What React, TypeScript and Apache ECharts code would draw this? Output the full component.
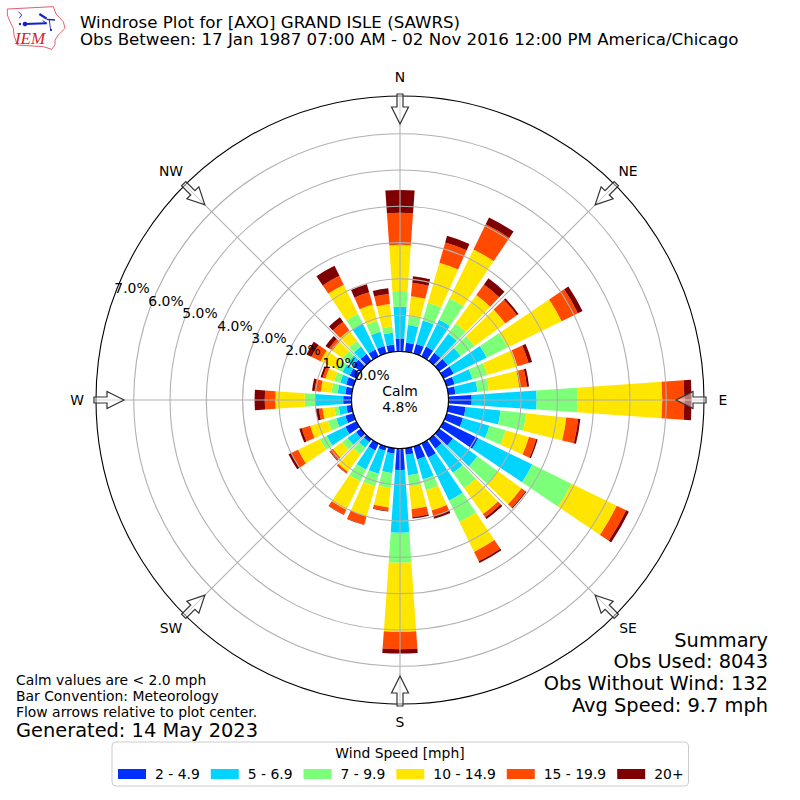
import { useEffect, useRef } from "react";
import * as echarts from "echarts";

// percent of observations per direction, clockwise from N in 10 degree steps
const directions = ["N", "10", "20", "30", "40", "50", "60", "70", "80", "E", "100", "110", "120", "130", "140", "150", "160", "170", "S", "190", "200", "210", "220", "230", "240", "250", "260", "W", "280", "290", "300", "310", "320", "330", "340", "350"];
const speed2to5 = [0.36, 0.25, 0.27, 0.30, 0.27, 0.29, 0.31, 0.23, 0.20, 0.64, 0.48, 0.47, 1.06, 0.47, 0.32, 0.43, 0.37, 0.18, 0.59, 0.15, 0.12, 0.21, 0.10, 0.16, 0.34, 0.23, 0.15, 0.23, 0.18, 0.21, 0.21, 0.26, 0.23, 0.21, 0.21, 0.20];
const speed5to7 = [0.87, 0.49, 0.67, 0.82, 0.65, 0.44, 1.01, 0.51, 0.61, 1.79, 0.97, 0.76, 1.66, 0.83, 0.83, 1.32, 0.57, 0.57, 1.73, 0.54, 0.66, 0.59, 0.19, 0.29, 0.57, 0.26, 0.21, 0.78, 0.21, 0.17, 0.22, 0.17, 0.26, 0.80, 0.41, 0.33];
const speed7to10 = [0.44, 0.25, 0.51, 0.66, 0.35, 0.47, 0.64, 0.42, 0.31, 1.12, 0.71, 0.46, 1.20, 0.70, 0.52, 0.65, 0.31, 0.31, 0.83, 0.41, 0.36, 0.36, 0.23, 0.18, 0.21, 0.24, 0.12, 0.28, 0.17, 0.17, 0.17, 0.19, 0.19, 0.30, 0.31, 0.17];
const speed10to15 = [1.27, 0.55, 1.15, 1.50, 0.97, 1.05, 1.66, 0.87, 0.85, 2.34, 1.11, 0.67, 1.39, 0.80, 0.88, 0.92, 0.58, 0.63, 1.90, 0.54, 0.86, 0.87, 0.59, 0.32, 0.67, 0.51, 0.33, 0.81, 0.30, 0.25, 0.50, 0.35, 0.36, 0.89, 0.47, 0.62];
const speed15to20 = [0.88, 0.37, 0.58, 0.77, 0.36, 0.39, 0.50, 0.32, 0.21, 0.61, 0.33, 0.21, 0.29, 0.14, 0.11, 0.29, 0.16, 0.22, 0.48, 0.10, 0.24, 0.15, 0.05, 0.10, 0.21, 0.24, 0.10, 0.29, 0.17, 0.08, 0.28, 0.11, 0.29, 0.27, 0.35, 0.28];
const speed20up = [0.63, 0.18, 0.19, 0.21, 0.21, 0.06, 0.14, 0.10, 0.06, 0.20, 0.06, 0.04, 0.08, 0.03, 0.06, 0.05, 0.08, 0.04, 0.12, 0.01, 0.01, 0.01, 0.01, 0.02, 0.08, 0.07, 0.09, 0.28, 0.07, 0.06, 0.15, 0.12, 0.15, 0.31, 0.23, 0.16];

const speedNames = ["2 - 4.9", "5 - 6.9", "7 - 9.9", "10 - 14.9", "15 - 19.9", "20+"];
const speedColors = ["#0030ff", "#00d4ff", "#7cff79", "#ffe600", "#ff4a00", "#7f0000"];
const speedValues = [speed2to5, speed5to7, speed7to10, speed10to15, speed15to20, speed20up];

// clockwise from E, which is how the arrows are turned
const compass = ["E", "NE", "N", "NW", "W", "SW", "S", "SE"];
const compassSpots = [[723, 400], [628, 171], [400, 77], [171, 171], [77, 400], [171, 628], [400, 722], [628, 628]];
const radiusTicks = [1, 2, 3, 4, 5, 6];
const radiusLabels = ["0.0%", "1.0%", "2.0%", "3.0%", "4.0%", "5.0%", "6.0%", "7.0%"];
const radiusLabelSpots = [[372, 375], [340, 363], [303, 350], [269, 338], [235, 326], [200, 313], [166, 301], [132, 288]];

const titleLines = ["Windrose Plot for [AXO] GRAND ISLE (SAWRS)", "Obs Between: 17 Jan 1987 07:00 AM - 02 Nov 2016 12:00 PM America/Chicago"];
const noteLines = ["Calm values are < 2.0 mph", "Bar Convention: Meteorology", "Flow arrows relative to plot center."];
const summaryLines = ["Summary", "Obs Used: 8043", "Obs Without Wind: 132", "Avg Speed: 9.7 mph"];

const FONT = "'DejaVu Sans', sans-serif";
const CX = 400;
const CY = 400;
const HOLE = 48.5;
const OUTER = 304;
const RADIUS_MAX = 7.04;

function text(x: number, y: number, value: string, fontSize: number, align = "left", extra = {}) {
  return {
    type: "text",
    silent: true,
    z: 20,
    x,
    y,
    style: { text: value, fill: "#000", font: `${fontSize}px ${FONT}`, align, verticalAlign: "middle", ...extra },
  };
}

function arrowGraphic(index: number) {
  return {
    type: "polygon",
    silent: true,
    z: 15,
    x: CX,
    y: CY,
    rotation: (Math.PI / 4) * index,
    shape: { points: [[276, 0], [293, 8.5], [293, 3], [306, 3], [306, -3], [293, -3], [293, -8.5]] },
    style: { fill: "rgba(255,255,255,0.45)", stroke: "#333", lineWidth: 1.2 },
  };
}

function logoGraphics() {
  const line = (points: number[][], stroke: string, lineWidth: number) => ({
    type: "polyline",
    silent: true,
    z: 20,
    shape: { points: points.map(([x, y]) => [x / 3, y / 3]) },
    style: { stroke, lineWidth, fill: "none" },
  });
  return [
    line([[22, 27], [160, 20], [168, 42], [190, 65], [195, 85], [175, 105], [165, 120], [165, 135], [155, 148], [130, 140], [52, 135], [42, 105], [40, 85], [30, 65], [22, 45], [22, 27]], "#e06070", 1),
    line([[75, 72], [140, 70]], "#1420c8", 2),
    line([[140, 58], [165, 60]], "#1420c8", 1.4),
    line([[118, 42], [140, 56]], "#1420c8", 2.2),
    line([[55, 35], [65, 45], [58, 55]], "#1420c8", 0.9),
    line([[148, 60], [152, 92]], "#1420c8", 0.9),
    line([[140, 70], [128, 62]], "#1420c8", 1),
    { type: "circle", silent: true, z: 20, shape: { cx: 25, cy: 24, r: 2.3 }, style: { fill: "#1420c8" } },
    { type: "circle", silent: true, z: 20, shape: { cx: 20, cy: 24, r: 1.2 }, style: { fill: "#1420c8" } },
    { type: "circle", silent: true, z: 20, shape: { cx: 51, cy: 30, r: 1.1 }, style: { fill: "#1420c8" } },
    text(30, 38.5, "IEM", 17, "center", { fill: "#d8212b", font: "italic 17px 'Liberation Serif', serif" }),
  ];
}

function buildOption() {
  const series = speedNames.map((name, i) => ({
    name,
    type: "bar",
    coordinateSystem: "polar",
    polarIndex: 0,
    stack: "wind",
    barWidth: "80%",
    itemStyle: { color: speedColors[i] },
    data: speedValues[i],
    silent: true,
    z: 2,
  }));

  return {
    animation: false,
    backgroundColor: "#fff",
    textStyle: { fontFamily: FONT },
    polar: [
      { center: [CX, CY], radius: [HOLE, OUTER] },
      { center: [CX, CY], radius: [HOLE, OUTER] },
    ],
    // bars sit on a band axis, turned half a band so N is centred on the top
    angleAxis: [
      { polarIndex: 0, type: "category", data: directions, startAngle: 95, clockwise: true, show: false },
      {
        polarIndex: 1,
        type: "value",
        min: 0,
        max: 360,
        interval: 45,
        startAngle: 90,
        clockwise: true,
        z: 5,
        axisLine: { show: true, lineStyle: { color: "#000", width: 1.1 } },
        axisTick: { show: false },
        axisLabel: { show: false },
        splitLine: { show: true, lineStyle: { color: "#b0b0b0", width: 1.1 } },
      },
    ],
    radiusAxis: [
      { polarIndex: 0, type: "value", min: 0, max: RADIUS_MAX, show: false },
      {
        polarIndex: 1,
        type: "value",
        min: 0,
        max: RADIUS_MAX,
        z: 5,
        axisLine: { show: false },
        axisTick: { show: false, customValues: radiusTicks },
        axisLabel: { show: false },
        splitLine: { show: true, lineStyle: { color: "#b0b0b0", width: 1.1 } },
      },
    ],
    legend: {
      left: 112,
      top: 742,
      orient: "horizontal",
      icon: "rect",
      itemWidth: 28,
      itemHeight: 10,
      itemGap: 11,
      padding: [25, 5, 5, 6],
      borderColor: "#ccc",
      borderWidth: 1,
      borderRadius: 4,
      backgroundColor: "#fff",
      selectedMode: false,
      data: speedNames,
      textStyle: { color: "#000", fontSize: 13.9, fontFamily: FONT, padding: [0, 0, 0, 4] },
    },
    graphic: [
      { type: "circle", silent: true, z: 10, shape: { cx: CX, cy: CY, r: HOLE }, style: { fill: "#fff", stroke: "#000", lineWidth: 1.1 } },
      ...compass.map((_, i) => arrowGraphic(i)),
      ...compass.map((label, i) => text(compassSpots[i][0], compassSpots[i][1], label, 13.9, "center")),
      ...radiusLabels.map((label, i) => text(radiusLabelSpots[i][0], radiusLabelSpots[i][1], label, 13.9, "center")),
      text(CX, 391, "Calm", 13.9, "center"),
      text(CX, 407, "4.8%", 13.9, "center"),
      text(80, 30.5, titleLines.join("\n"), 16.67, "left", { lineHeight: 17 }),
      ...noteLines.map((line, i) => text(16, 680 + i * 16, line, 13.9)),
      text(16, 730, "Generated: 14 May 2023", 19.4),
      ...summaryLines.map((line, i) => text(768, 640 + i * 21.7, line, 19.4, "right")),
      text(CX, 753, "Wind Speed [mph]", 13.9, "center"),
      ...logoGraphics(),
    ],
    series,
  };
}

export default function App() {
  const rootRef = useRef<HTMLDivElement | null>(null);

  useEffect(() => {
    if (!rootRef.current) {
      return;
    }
    const chart = echarts.init(rootRef.current, undefined, { renderer: "svg" });
    chart.setOption(buildOption() as any);
    return () => {
      chart.dispose();
    };
  }, []);

  return <div ref={rootRef} style={{ position: "absolute", left: 0, top: 0, width: 800, height: 800 }} />;
}
